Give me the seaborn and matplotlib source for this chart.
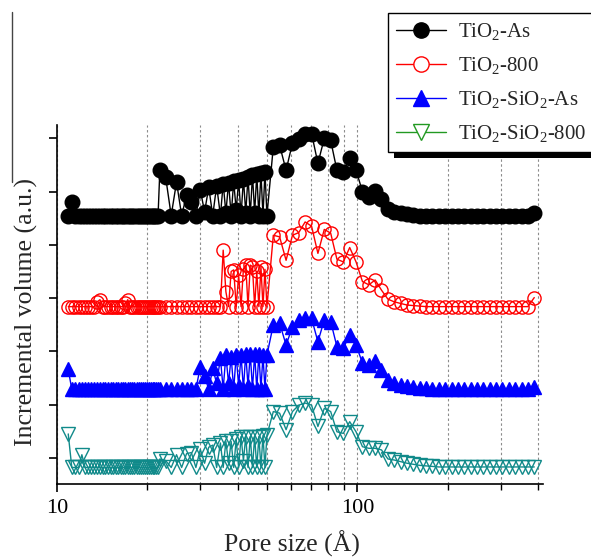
import numpy as np
import pandas as pd
import matplotlib
matplotlib.use("Agg")
import matplotlib.pyplot as plt
import seaborn as sns
from matplotlib.lines import Line2D
from matplotlib.patches import Rectangle
from matplotlib.ticker import FixedLocator, NullFormatter, FixedFormatter

# ---------------- data (pore size in Å, incremental volume in a.u.) ----------------
x_dense1 = [10.9, 11.2, 11.5, 11.8, 12.1, 12.4, 12.7, 13.0, 13.3, 13.6,
            13.9, 14.2, 14.5, 14.8, 15.1, 15.4, 15.7, 16.0, 16.3, 16.6,
            16.9, 17.2, 17.5, 17.8, 18.1, 18.4, 18.7, 19.0, 19.3, 19.6,
            19.9, 20.2, 20.5, 20.8, 21.1, 21.4, 21.7, 22.0]
x_dense2 = [23, 24, 25, 26, 27, 28, 29, 30, 31, 32, 33, 34,
            35.0, 35.75, 36.5, 37.25, 38.0, 38.75, 39.5, 40.25, 41.0, 41.75,
            42.5, 43.25, 44.0, 44.75, 45.5, 46.25, 47.0, 47.75, 48.5, 49.25, 50.0]
x_log = [52.5, 55.1, 57.9, 60.8, 63.8, 67.0, 70.4, 73.9, 77.6, 81.5,
         85.5, 89.8, 94.3, 99.0, 104.0, 109.2, 114.6, 120.3, 126.4, 132.7,
         139.3, 146.3, 153.6, 161.3, 169.3, 177.8, 186.7, 196.0, 205.8, 216.1,
         226.9, 238.3, 250.2, 262.7, 275.8, 289.6, 304.1, 319.3, 335.2, 352.0,
         369.6, 388.1]

# TiO2-As
tio2_as_d1 = [4.55, 4.80, 4.55, 4.55, 4.55, 4.55, 4.55, 4.55, 4.55, 4.55,
              4.55, 4.55, 4.55, 4.55, 4.55, 4.55, 4.55, 4.55, 4.55, 4.55,
              4.55, 4.55, 4.55, 4.55, 4.55, 4.55, 4.55, 4.55, 4.55, 4.55,
              4.55, 4.55, 4.55, 4.55, 4.55, 4.55, 4.55, 5.40]
tio2_as_d2 = [5.27, 4.55, 5.18, 4.55, 4.93, 4.81, 4.55, 5.03, 4.62, 5.08, 4.55, 5.11,
              4.55, 5.15, 4.60, 5.17, 4.55, 5.19, 4.65, 5.21, 4.55, 5.24,
              4.60, 5.28, 4.55, 5.32, 4.60, 5.33, 4.55, 5.35, 4.55, 5.37, 4.55]
tio2_as_lg = [5.84, 5.87, 5.40, 5.91, 5.99, 6.09, 6.09, 5.53, 6.00, 5.96,
              5.40, 5.37, 5.63, 5.40, 5.00, 4.90, 5.01, 4.86, 4.68, 4.62,
              4.59, 4.57, 4.56, 4.55, 4.55, 4.55, 4.55, 4.55, 4.55, 4.55,
              4.55, 4.55, 4.55, 4.55, 4.55, 4.55, 4.55, 4.55, 4.55, 4.55,
              4.55, 4.59]

# TiO2-800
tio2_800_d1 = [2.84, 2.84, 2.84, 2.84, 2.84, 2.84, 2.84, 2.84, 2.84, 2.93,
               2.97, 2.84, 2.84, 2.84, 2.84, 2.84, 2.84, 2.84, 2.84, 2.84,
               2.90, 2.97, 2.84, 2.84, 2.84, 2.84, 2.84, 2.84, 2.84, 2.84,
               2.84, 2.84, 2.84, 2.84, 2.84, 2.84, 2.84, 2.84]
tio2_800_d2 = [2.84, 2.84, 2.84, 2.84, 2.84, 2.84, 2.84, 2.84, 2.84, 2.84, 2.84, 2.84,
               2.84, 3.90, 3.12, 2.84, 3.50, 3.53, 2.84, 3.43, 2.84, 3.55,
               3.62, 2.84, 3.62, 3.59, 2.84, 3.50, 2.84, 3.59, 2.84, 3.54, 2.84]
tio2_800_lg = [4.18, 4.15, 3.71, 4.18, 4.23, 4.43, 4.35, 3.84, 4.29, 4.22,
               3.73, 3.68, 3.95, 3.68, 3.31, 3.25, 3.34, 3.15, 2.98, 2.93,
               2.90, 2.87, 2.86, 2.85, 2.84, 2.84, 2.84, 2.84, 2.84, 2.84,
               2.84, 2.84, 2.84, 2.84, 2.84, 2.84, 2.84, 2.84, 2.84, 2.84,
               2.84, 3.01]

# TiO2-SiO2-As
tsi_as_d1 = [1.66, 1.29, 1.29, 1.29, 1.29, 1.29, 1.29, 1.29, 1.29, 1.29,
             1.29, 1.29, 1.29, 1.29, 1.29, 1.29, 1.29, 1.29, 1.29, 1.29,
             1.29, 1.29, 1.29, 1.29, 1.29, 1.29, 1.29, 1.29, 1.29, 1.29,
             1.29, 1.29, 1.29, 1.29, 1.29, 1.29, 1.29, 1.29]
tsi_as_d2 = [1.29, 1.29, 1.29, 1.29, 1.29, 1.29, 1.29, 1.71, 1.53, 1.29, 1.68, 1.40,
             1.87, 1.29, 1.93, 1.40, 1.90, 1.29, 1.93, 1.35, 1.93, 1.29,
             1.96, 1.35, 1.96, 1.29, 1.96, 1.29, 1.96, 1.29, 1.93, 1.29, 1.93]
tsi_as_lg = [2.50, 2.53, 2.12, 2.46, 2.59, 2.62, 2.62, 2.18, 2.59, 2.56,
             2.09, 2.06, 2.31, 2.12, 1.78, 1.74, 1.81, 1.65, 1.46, 1.40,
             1.37, 1.35, 1.34, 1.32, 1.31, 1.30, 1.29, 1.29, 1.29, 1.29,
             1.29, 1.29, 1.29, 1.29, 1.29, 1.29, 1.29, 1.29, 1.29, 1.29,
             1.29, 1.34]

# TiO2-SiO2-800
tsi_800_d1 = [0.45, -0.18, -0.18, -0.18, 0.06, -0.18, -0.18, -0.18, -0.18, -0.18,
              -0.18, -0.18, -0.18, -0.18, -0.18, -0.18, -0.18, -0.18, -0.18, -0.18,
              -0.18, -0.18, -0.18, -0.18, -0.18, -0.18, -0.18, -0.18, -0.18, -0.18,
              -0.18, -0.18, -0.18, -0.18, -0.18, -0.18, -0.18, -0.02]
tsi_800_d2 = [-0.05, -0.18, 0.06, -0.18, 0.08, 0.10, -0.18, 0.16, -0.10, 0.20, 0.24, -0.18,
              0.28, -0.18, 0.31, -0.10, 0.31, -0.18, 0.35, -0.18, 0.40, -0.05,
              0.40, -0.18, 0.40, -0.18, 0.40, -0.18, 0.40, -0.18, 0.42, -0.18, 0.43]
tsi_800_lg = [0.87, 0.84, 0.53, 0.87, 0.99, 1.03, 0.99, 0.59, 0.93, 0.87,
              0.49, 0.46, 0.68, 0.49, 0.21, 0.18, 0.18, 0.15, -0.02, -0.04,
              -0.07, -0.10, -0.12, -0.14, -0.15, -0.16, -0.17, -0.17, -0.17, -0.17,
              -0.17, -0.17, -0.17, -0.17, -0.17, -0.17, -0.17, -0.17, -0.17, -0.17,
              -0.17, -0.17]

labels = [r"TiO$_\mathrm{2}$-As", r"TiO$_\mathrm{2}$-800",
          r"TiO$_\mathrm{2}$-SiO$_\mathrm{2}$-As", r"TiO$_\mathrm{2}$-SiO$_\mathrm{2}$-800"]
x_ticks_major = [10, 100]
x_ticks_minor = [20, 30, 40, 50, 60, 70, 80, 90, 200, 300, 400]
y_ticks = [0, 1, 2, 3, 4, 5, 6]

# ---------------- styling ----------------
sns.set_style("ticks")
plt.rcParams["font.family"] = ["Liberation Serif", "DejaVu Serif"]
plt.rcParams["mathtext.fontset"] = "custom"
plt.rcParams["mathtext.rm"] = "Liberation Serif"
plt.rcParams["mathtext.it"] = "Liberation Serif:italic"

W, H = 591, 558
fig = plt.figure(figsize=(W / 100, H / 100), dpi=100)
ax = fig.add_axes([57 / W, 1 - 484 / H, (543 - 57) / W, (484 - 125) / H])

x_all = x_dense1 + x_dense2 + x_log
series = [
    (tio2_as_d1 + tio2_as_d2 + tio2_as_lg, "black", "o", 10.5, "black"),
    (tio2_800_d1 + tio2_800_d2 + tio2_800_lg, "#ff0000", "o", 9.5, "none"),
    (tsi_as_d1 + tsi_as_d2 + tsi_as_lg, "#0000ff", "^", 10.5, "#0000ff"),
    (tsi_800_d1 + tsi_800_d2 + tsi_800_lg, "#108a8a", "v", 10.0, "none"),
]
for i, (y, c, m, ms, fc) in enumerate(series):
    df = pd.DataFrame({"x": x_all, "y": y})
    sns.lineplot(data=df, x="x", y="y", ax=ax, color=c, lw=1.0, marker=m,
                 markersize=ms, markerfacecolor=fc, markeredgecolor=c,
                 markeredgewidth=1.0, estimator=None, sort=False, legend=False,
                 zorder=3 + i)

ax.set_xscale("log")
ax.set_xlim(10, 415)
ax.set_ylim(-0.49, 6.25)
ax.xaxis.set_major_locator(FixedLocator(x_ticks_major))
ax.xaxis.set_major_formatter(FixedFormatter([str(v) for v in x_ticks_major]))
ax.xaxis.set_minor_locator(FixedLocator(x_ticks_minor))
ax.xaxis.set_minor_formatter(NullFormatter())
ax.set_yticks(y_ticks)
ax.set_yticklabels([])

ax.grid(True, which="both", axis="x", linestyle=(0, (2.2, 2.2)), color="#8c8c8c", lw=0.8)
ax.grid(False, axis="y")
ax.set_axisbelow(True)

for s in ["top", "right"]:
    ax.spines[s].set_visible(False)
for s in ["left", "bottom"]:
    ax.spines[s].set_linewidth(1.2)
    ax.spines[s].set_color("black")

ax.tick_params(axis="x", which="major", direction="out", length=6, width=1.2,
               labelsize=16, pad=5, colors="black")
ax.tick_params(axis="x", which="minor", direction="out", length=4, width=1.0, colors="black")
ax.tick_params(axis="y", which="major", direction="out", length=6, width=1.2,
               labelleft=False, colors="black")

ax.set_xlabel("Pore size (Å)", fontsize=18.5)
ax.set_ylabel("Incremental volume (a.u.)", fontsize=18.5)
ax.xaxis.set_label_coords(0.484, -0.13)
ax.yaxis.set_label_coords(-0.04, 0.48)

# legend (box drawn separately so that it runs past the right edge, as in the crop)
leg_colors = ["black", "#ff0000", "#0000ff", "#229922"]
leg_markers = ["o", "o", "^", "v"]
leg_fc = ["black", "white", "#0000ff", "white"]
handles = [Line2D([], [], color=c, marker=m, markersize=11, markerfacecolor=f,
                  markeredgecolor=c, markeredgewidth=1.0, lw=1.0)
           for c, m, f in zip(leg_colors, leg_markers, leg_fc)]
leg = fig.legend(handles, labels, loc="upper left",
                 bbox_to_anchor=(388 / W, 1 - 13 / H),
                 bbox_transform=fig.transFigure, frameon=False,
                 fontsize=15, handlelength=2.4, handletextpad=0.55, borderpad=0.4,
                 labelspacing=0.62, borderaxespad=0)
leg.set_zorder(10)

fig.canvas.draw()
bb = leg.get_window_extent()
inv = fig.transFigure.inverted()
right_px = W + 30
(sx0, sy0) = inv.transform((bb.x0 + 6, bb.y0 - 6))
(sx1, sy1) = inv.transform((right_px + 6, bb.y1 - 6))
fig.add_artist(Rectangle((sx0, sy0), sx1 - sx0, sy1 - sy0, transform=fig.transFigure,
                         facecolor="black", edgecolor="none", zorder=8))
(bx0, by0) = inv.transform((bb.x0, bb.y0))
(bx1, by1) = inv.transform((right_px, bb.y1))
fig.add_artist(Rectangle((bx0, by0), bx1 - bx0, by1 - by0, transform=fig.transFigure,
                         facecolor="white", edgecolor="black", lw=1.0, zorder=9))

# stray frame line at the far left of the original crop
fig.add_artist(Line2D([12 / W, 12 / W], [1 - 12 / H, 1 - 182 / H],
                      color="#444444", lw=1.0, transform=fig.transFigure))

fig.savefig("out.png", dpi=100)
